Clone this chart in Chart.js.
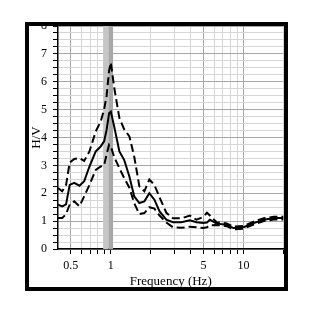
<!DOCTYPE html>
<html>
<head>
<meta charset="utf-8">
<script src="https://cdn.jsdelivr.net/npm/chart.js@4"></script>
<style>
  html, body { margin: 0; padding: 0; background: #fff; }
  #wrap { width: 312px; height: 327px; }
</style>
</head>
<body>
<div id="wrap"><canvas id="myChart" width="312" height="327"></canvas></div>
<script>
// frequencies (Hz) and H/V curves
var freqs = [0.4, 0.43, 0.46, 0.49, 0.53, 0.58, 0.63, 0.69, 0.77, 0.84, 0.89, 0.93, 0.97, 1.0, 1.06, 1.16, 1.26, 1.38, 1.5, 1.64, 1.79, 1.95, 2.13, 2.33, 2.62, 2.94, 3.4, 3.94, 4.42, 4.97, 5.3, 5.58, 6.27, 7.47, 8.39, 10, 11.9, 14.2, 16.9, 20];
var hvMean = [1.59, 1.53, 1.6, 2.3, 2.37, 2.27, 2.43, 2.96, 3.5, 3.68, 3.86, 4.28, 4.87, 4.93, 4.4, 3.5, 3.2, 2.6, 1.89, 1.65, 1.71, 2.0, 1.77, 1.35, 1.05, 0.96, 0.96, 1.03, 0.96, 0.93, 0.95, 1.05, 0.91, 0.87, 0.75, 0.78, 0.93, 1.05, 1.11, 1.11];
var hvUpper = [2.19, 2.07, 2.3, 3.1, 3.23, 3.26, 3.16, 3.5, 4.22, 4.58, 5.0, 5.5, 6.4, 6.69, 5.8, 4.7, 4.3, 4.04, 3.32, 2.25, 2.07, 2.49, 2.3, 1.85, 1.3, 1.1, 1.1, 1.2, 1.05, 1.15, 1.3, 1.2, 0.96, 0.92, 0.8, 0.83, 0.98, 1.1, 1.16, 1.16];
var hvLower = [1.11, 1.11, 1.25, 1.6, 1.71, 1.53, 1.89, 2.3, 2.84, 2.96, 3.0, 3.4, 3.74, 3.68, 3.3, 2.9, 2.55, 2.2, 1.65, 1.25, 1.29, 1.5, 1.45, 1.2, 0.95, 0.78, 0.76, 0.8, 0.78, 0.75, 0.78, 0.85, 0.86, 0.82, 0.7, 0.73, 0.88, 1.0, 1.06, 1.06];

// peak frequency band (Hz)
var bandLight = [0.875, 0.96];
var bandDark = [0.96, 1.04];

// x ticks and which ones get labels
var xTicks = [0.5, 0.6, 0.7, 0.8, 0.9, 1, 2, 3, 4, 5, 6, 7, 8, 9, 10, 20];
var xLabeled = [0.5, 1, 5, 10];

var serif = "'Liberation Serif', 'DejaVu Serif', serif";

function toPts(ys) {
    return freqs.map(function (f, i) { return { x: f, y: ys[i] }; });
}

var bandPlugin = {
    id: 'band',
    beforeDatasetsDraw: function (chart) {
        var ctx = chart.ctx, xs = chart.scales.x, a = chart.chartArea;
        ctx.save();
        ctx.fillStyle = '#c6c6c6';
        var x1 = xs.getPixelForValue(bandLight[0]), x2 = xs.getPixelForValue(bandLight[1]);
        ctx.fillRect(x1, a.top, x2 - x1, a.bottom - a.top);
        ctx.fillStyle = '#a8a8a8';
        x1 = xs.getPixelForValue(bandDark[0]); x2 = xs.getPixelForValue(bandDark[1]);
        ctx.fillRect(x1, a.top, x2 - x1, a.bottom - a.top);
        ctx.restore();
    }
};

var framePlugin = {
    id: 'frame',
    afterDraw: function (chart) {
        var ctx = chart.ctx;
        ctx.save();
        ctx.fillStyle = '#fff';
        ctx.fillRect(0, 0, 312, 22);
        ctx.strokeStyle = '#000';
        ctx.lineWidth = 4;
        ctx.strokeRect(27, 24, 259, 265);
        ctx.restore();
    }
};

var myChart = new Chart(document.getElementById('myChart').getContext('2d'), {
    type: 'line',
    data: {
        datasets: [
            { data: toPts(hvUpper), borderColor: '#000', borderWidth: 2, borderDash: [8, 4], pointRadius: 0, fill: false },
            { data: toPts(hvMean), borderColor: '#000', borderWidth: 2, pointRadius: 0, fill: false },
            { data: toPts(hvLower), borderColor: '#000', borderWidth: 2, borderDash: [8, 4], pointRadius: 0, fill: false }
        ]
    },
    options: {
        responsive: false,
        animation: false,
        layout: { padding: { left: 0, top: 26, right: 28.5, bottom: 0 } },
        plugins: { legend: { display: false }, tooltip: { enabled: false } },
        scales: {
            x: {
                type: 'logarithmic',
                min: 0.4,
                max: 20,
                afterBuildTicks: function (scale) {
                    scale.ticks = xTicks.map(function (v) { return { value: v }; });
                },
                afterFit: function (scale) { scale.height = 78; },
                ticks: {
                    autoSkip: false,
                    maxRotation: 0,
                    padding: 5,
                    color: '#000',
                    font: { family: serif, size: 12 },
                    callback: function (v) { return xLabeled.indexOf(v) >= 0 ? String(v) : ''; }
                },
                grid: {
                    color: function (c) { return xLabeled.indexOf(c.tick.value) >= 0 ? '#a6a6a6' : '#d6d6d6'; },
                    tickColor: '#000',
                    tickLength: 5
                },
                border: { color: '#000', width: 1.5 },
                title: {
                    display: true,
                    text: 'Frequency (Hz)',
                    color: '#000',
                    font: { family: serif, size: 13 },
                    padding: { top: 0, bottom: 38 }
                }
            },
            y: {
                min: 0,
                max: 8,
                afterFit: function (scale) { scale.width = 58; },
                ticks: {
                    stepSize: 0.25,
                    autoSkip: false,
                    padding: 6,
                    color: '#000',
                    font: { family: serif, size: 12 },
                    callback: function (v) { return Number.isInteger(v) ? String(v) : ''; }
                },
                grid: {
                    color: function (c) { return Number.isInteger(c.tick.value) ? '#a6a6a6' : '#d6d6d6'; },
                    tickColor: '#000',
                    tickLength: 5
                },
                border: { color: '#000', width: 1.5 },
                title: {
                    display: true,
                    text: 'H/V',
                    color: '#000',
                    font: { family: serif, size: 13 },
                    padding: { top: 29, bottom: 0 }
                }
            }
        }
    },
    plugins: [bandPlugin, framePlugin]
});
</script>
</body>
</html>
